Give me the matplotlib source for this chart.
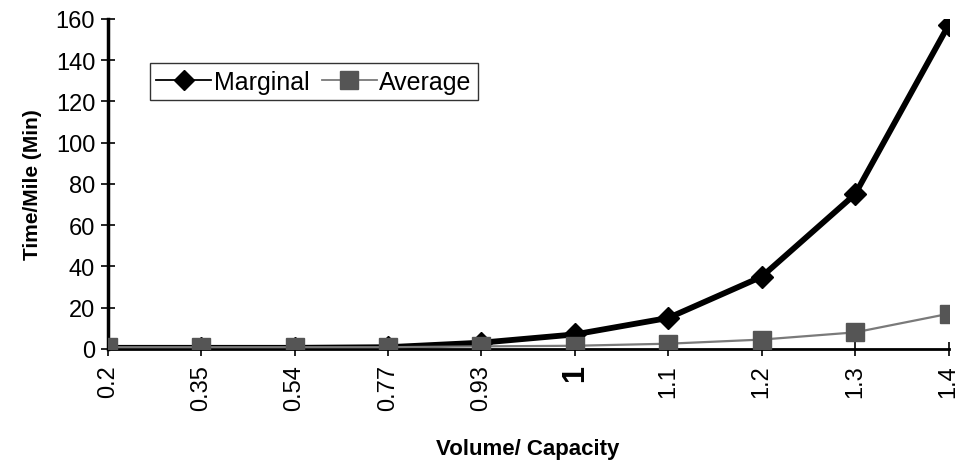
import numpy as np
import matplotlib.pyplot as plt

plt.rcParams['font.family'] = ['Liberation Sans', 'DejaVu Sans']

vc_labels = ["0.2", "0.35", "0.54", "0.77", "0.93", "1", "1.1", "1.2", "1.3", "1.4"]
marginal = [0.5, 0.5, 0.5, 0.8, 3, 7, 15, 35, 75, 157]
average = [0.8, 0.8, 0.8, 0.8, 1.2, 1.5, 2.5, 4.5, 8, 17]

fig = plt.figure(figsize=(9.62, 4.64), dpi=100)
ax = fig.add_axes([0.112, 0.246, 0.874, 0.711])

x = np.arange(len(vc_labels))
ax.plot(x, marginal, color="black", lw=4.2, marker="D", ms=11,
        mfc="black", mec="black", label="Marginal", zorder=3)
ax.plot(x, average, color="#7a7a7a", lw=1.6, marker="s", ms=13,
        mfc="#555555", mec="#555555", label="Average", zorder=4)

ax.set_xlim(0, len(vc_labels) - 1)
ax.set_ylim(0, 160)
ax.set_yticks(np.arange(0, 161, 20))
ax.set_xticks(x)
ax.set_xticklabels(vc_labels, rotation=90)

ax.tick_params(axis="both", labelsize=17, direction="inout", length=10, width=1.2)
ax.tick_params(axis="x", pad=6)
ax.tick_params(axis="y", pad=4)

for lab in ax.get_xticklabels():
    if lab.get_text() == "1":
        lab.set_fontweight("bold")
        lab.set_fontsize(22)

for s in ["top", "right"]:
    ax.spines[s].set_visible(False)
ax.spines["left"].set_linewidth(2.5)
ax.spines["bottom"].set_linewidth(2.0)

ax.set_ylabel("Time/Mile (Min)", fontsize=15, fontweight="bold", labelpad=10)
ax.set_xlabel("Volume/ Capacity", fontsize=16, fontweight="bold", labelpad=20)

leg = ax.legend(loc="upper left", bbox_to_anchor=(0.05, 0.865),
                ncol=2, fontsize=18, frameon=True, fancybox=False,
                handlelength=2.2, handletextpad=0.1, columnspacing=0.5,
                borderpad=0.25, borderaxespad=0, markerscale=0.95)
leg.get_frame().set_edgecolor("black")
leg.get_frame().set_linewidth(1.0)
for line in leg.get_lines():
    line.set_linewidth(1.3)

fig.savefig("out.png", dpi=100)
